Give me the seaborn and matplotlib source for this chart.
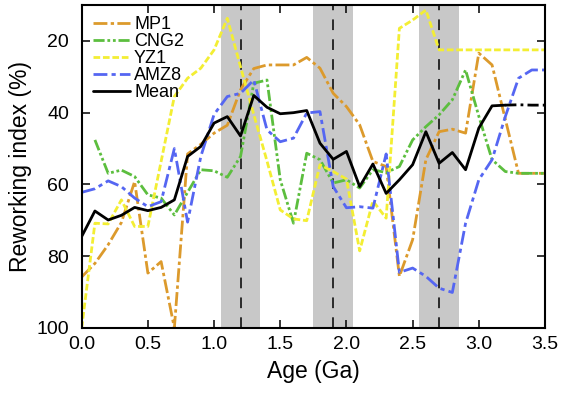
import numpy as np
import pandas as pd
import matplotlib
matplotlib.use("Agg")
import matplotlib.pyplot as plt
import seaborn as sns
from matplotlib.lines import Line2D

# ---- data ----
age = [round(0.1 * i, 1) for i in range(36)]  # 0.0 .. 3.5

mp1 = [85.8, 82.0, 76.8, 70.6, 59.2, 84.7, 81.5, 100.0, 51.5, 48.8,
       45.7, 43.5, 33.6, 27.7, 26.7, 26.7, 26.7, 24.6, 27.6, 34.6,
       38.3, 43.4, 53.6, 55.0, 85.6, 75.4, 53.1, 45.3, 44.6, 45.7,
       23.4, 26.7, 41.8, 56.9, 56.9, 56.9]

cng2_age = age[1:]
cng2 = [47.6, 56.9, 56.0, 57.8, 62.9, 63.8, 68.5, 62.2, 55.9,
        56.2, 58.0, 52.2, 31.8, 30.9, 58.7, 70.8, 51.3, 53.1, 59.6,
        58.7, 61.0, 55.9, 56.7, 55.0, 47.6, 43.9, 40.6, 36.4, 28.1,
        41.0, 53.1, 56.4, 56.9, 56.9, 56.9]

yz1 = [100.0, 70.8, 71.0, 64.3, 71.7, 71.7, 53.6, 35.5, 30.4, 27.6,
       22.5, 13.7, 27.2, 40.5, 53.5, 67.1, 69.6, 70.1, 54.5, 56.4,
       58.5, 78.5, 64.6, 69.4, 16.5, 14.2, 11.4, 22.5, 22.5, 22.5,
       22.5, 22.5, 22.5, 22.5, 22.5, 22.5]

amz8 = [62.2, 61.2, 59.0, 60.6, 63.8, 66.2, 64.8, 50.0, 70.5, 52.2,
        40.5, 35.5, 34.6, 30.9, 44.8, 48.1, 47.1, 40.1, 39.7, 60.6,
        66.5, 66.2, 66.6, 51.5, 84.5, 83.3, 85.6, 88.9, 90.1, 70.8,
        58.7, 53.1, 41.1, 30.4, 28.1, 28.1]

mean = [74.5, 67.4, 69.9, 68.6, 66.4, 67.3, 66.4, 64.3, 52.2, 49.4,
        42.9, 41.1, 46.5, 35.2, 38.5, 40.3, 40.0, 39.4, 48.5, 53.0,
        50.8, 60.6, 54.3, 62.5, 58.7, 54.5, 45.3, 54.1, 51.1, 55.9,
        44.3, 38.1, 37.9, 37.8, 37.9, 37.9]

event_ages = [1.2, 1.9, 2.7]
band_half = 0.15

series_names = ["MP1", "CNG2", "YZ1", "AMZ8"]
colors = {"MP1": "#DC9A2C", "CNG2": "#5CBE3E", "YZ1": "#F3EE33", "AMZ8": "#5566F2"}

# ---- style ----
sns.set_style("ticks")
plt.rcParams["font.family"] = ["Liberation Sans", "DejaVu Sans"]
plt.rcParams["font.size"] = 14
for k in ["text.color", "axes.labelcolor", "xtick.color", "ytick.color", "axes.edgecolor"]:
    plt.rcParams[k] = "black"

fig = plt.figure(figsize=(5.61, 3.98), dpi=100)
ax = fig.add_axes([0.1456, 0.1759, 0.8259, 0.8115])

for e in event_ages:
    ax.axvspan(e - band_half, e + band_half, color="#C8C8C8", lw=0, zorder=0)
    ax.axvline(e, color="black", lw=1.1, linestyle=(0, (7, 6)), zorder=1)

dfs = {
    "MP1": pd.DataFrame({"age": age, "val": mp1}),
    "CNG2": pd.DataFrame({"age": cng2_age, "val": cng2}),
    "YZ1": pd.DataFrame({"age": age, "val": yz1}),
    "AMZ8": pd.DataFrame({"age": age, "val": amz8}),
}
styles = {
    "MP1": (0, (5, 1.2, 1.2, 1.2)),
    "CNG2": (0, (4, 1, 1, 1, 1, 1)),
    "YZ1": (0, (2.4, 1.0)),
    "AMZ8": (0, (5, 1.5, 1.5, 1.5)),
}
handles = []
for name in series_names:
    sns.lineplot(data=dfs[name], x="age", y="val", ax=ax, color=colors[name],
                 lw=2.0, linestyle=styles[name], sort=False, estimator=None,
                 zorder=2)
    handles.append(Line2D([0], [0], color=colors[name], lw=2.0, linestyle=styles[name]))

mdf = pd.DataFrame({"age": age, "val": mean})
cut = 32
sns.lineplot(data=mdf.iloc[:cut + 1], x="age", y="val", ax=ax, color="black",
             lw=2.0, sort=False, estimator=None, zorder=3)
sns.lineplot(data=mdf.iloc[cut:], x="age", y="val", ax=ax, color="black",
             lw=2.0, linestyle=(0, (4, 1.5, 1, 1.5)), sort=False, estimator=None, zorder=3)
handles.append(Line2D([0], [0], color="black", lw=2.0))

ax.set_xlim(0, 3.5)
ax.set_ylim(100, 10)
ax.set_xticks(np.arange(0, 3.51, 0.5))
ax.set_xticklabels([f"{v:.1f}" for v in np.arange(0, 3.51, 0.5)])
ax.set_yticks([20, 40, 60, 80, 100])
ax.tick_params(direction="in", length=6, width=1.1, top=True, right=True,
               labelsize=14, colors="black")
ax.tick_params(axis="x", pad=6)
ax.tick_params(axis="y", pad=9)
for s in ax.spines.values():
    s.set_linewidth(1.5)
    s.set_color("black")
ax.set_xlabel("Age (Ga)", fontsize=16.5, labelpad=5, color="black")
ax.set_ylabel("Reworking index (%)", fontsize=16.5, labelpad=3, color="black")

leg = ax.legend(handles, series_names + ["Mean"], loc="upper left", frameon=False,
                fontsize=13, handlelength=2.1, handletextpad=0.2, labelspacing=0.0,
                borderaxespad=0.3, borderpad=0.3)
for t in leg.get_texts():
    t.set_color("black")

fig.savefig("out.png", dpi=100)
